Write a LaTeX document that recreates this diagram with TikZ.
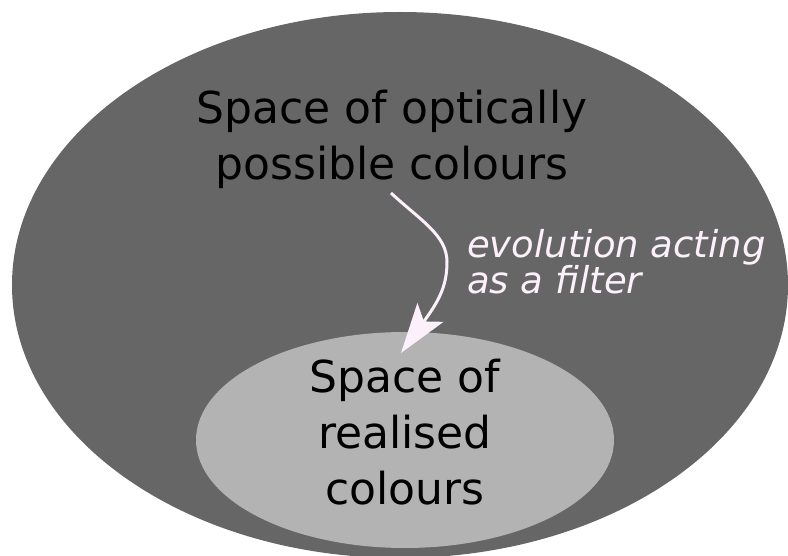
\documentclass[tikz,border=0pt]{standalone}
\usepackage{fontspec}
\setmainfont{DejaVu Sans}
\usetikzlibrary{arrows.meta,shapes.geometric}
\definecolor{darkgrey}{HTML}{666666}
\definecolor{lightgrey}{HTML}{B3B3B3}
\definecolor{pinkwhite}{RGB}{252,240,250}
\begin{document}
\begin{tikzpicture}[x=1pt,y=-1pt,
  bigtext/.style={font=\fontsize{44}{56}\selectfont, text=black, align=center, inner sep=0pt},
  labeltext/.style={font=\fontsize{37}{31}\selectfont\itshape, text=pinkwhite, align=left, inner sep=0pt},
  filterarrow/.style={draw=pinkwhite, line width=3pt, -{Stealth[length=50pt,width=32pt,inset=11pt,fill=pinkwhite]}}]
\useasboundingbox (0,0) rectangle (788,556);
\begin{scope}
\clip (0,0) rectangle (788,556);
\fill[darkgrey] (400,285) ellipse [x radius=388, y radius=273];
\end{scope}
\node[ellipse, fill=lightgrey, minimum width=418pt, minimum height=216pt, inner sep=0pt] (inner) at (405,440) {};
\node[bigtext, anchor=base] (top) at (392,180) {Space of optically\\possible colours};
\node[bigtext, anchor=base] (bottom) at (405,504) {Space of\\realised\\colours};
\node[labeltext, anchor=base west] (label) at (467,294) {evolution acting\\as a filter};
\coordinate (s) at (391,193);
\coordinate (m) at (447,262);
\coordinate (t) at (401,353);
\draw[filterarrow] (s) .. controls (420,220) and (447,235) .. (m)
  .. controls (447,287) and (438,302) .. (t);
\end{tikzpicture}
\end{document}
